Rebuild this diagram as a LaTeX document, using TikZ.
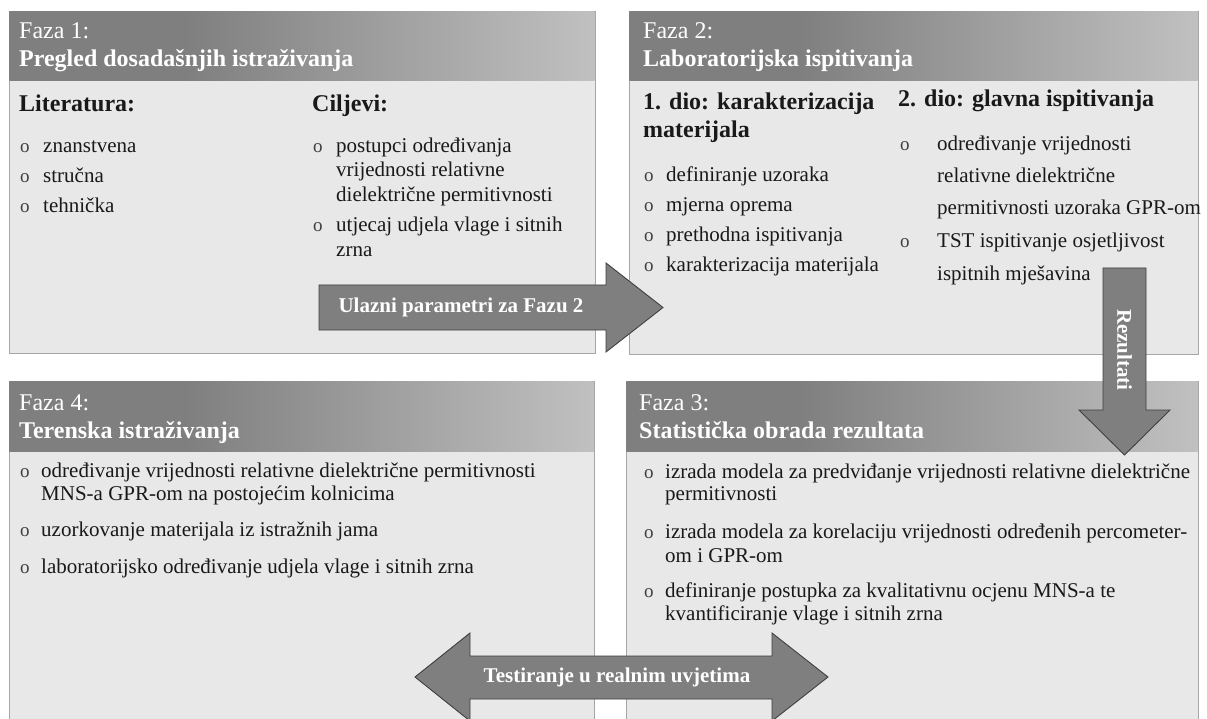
\documentclass[tikz,border=0pt]{standalone}
\usepackage{fontspec}
\setmainfont{Liberation Serif}
\definecolor{hdrA}{HTML}{7F7F7F}
\definecolor{hdrB}{HTML}{E0E0E0}
\definecolor{panelbg}{HTML}{E8E8E8}
\definecolor{arrowfill}{HTML}{7F7F7F}
\pgfdeclarehorizontalshading{hdrshade}{100bp}{color(0bp)=(hdrA); color(40bp)=(hdrA); color(92bp)=(hdrB); color(100bp)=(hdrB)}
\begin{document}
\begin{tikzpicture}[x=1pt,y=-1pt,
 panel/.style={draw=black!35, line width=0.8pt, fill=panelbg, inner sep=0pt, anchor=north west},
 hdrtxt/.style={anchor=base west, inner sep=0pt, text=white, font=\fontsize{24}{28}\selectfont},
 hdrbold/.style={anchor=base west, inner sep=0pt, text=white, font=\fontsize{24}{28}\selectfont\bfseries},
 subhd/.style={anchor=base west, inner sep=0pt, font=\fontsize{24}{28}\selectfont\bfseries, text=black!90},
 body/.style={anchor=base west, inner sep=0pt, font=\fontsize{21}{24}\selectfont, text=black!90},
 bul/.style={anchor=base west, inner sep=0pt, font=\fontsize{19}{22}\selectfont, text=black!75},
 blockarrow/.style={fill=arrowfill, draw=black!75, line width=0.9pt, line join=miter},
 arrtxt/.style={inner sep=0pt, text=white, font=\fontsize{21}{24}\selectfont\bfseries}]
\useasboundingbox (0,0) rectangle (1207,719);
\fill[white] (0,0) rectangle (1207,719);
\clip (0,0) rectangle (1207,719);

% ---------- panels ----------
\node[panel, minimum width=586pt, minimum height=342pt] (P1) at (9,11) {};
\node[panel, minimum width=569pt, minimum height=343pt] (P2) at (629,11) {};
\node[panel, minimum width=585pt, minimum height=350pt] (P4) at (9,381) {};
\node[panel, minimum width=572pt, minimum height=350pt] (P3) at (626,381) {};

\shade[shading=hdrshade] (9.4,11.4) rectangle (594.6,81);
\shade[shading=hdrshade] (629.4,11.4) rectangle (1197.6,81);
\shade[shading=hdrshade] (9.4,381.4) rectangle (593.6,451);
\shade[shading=hdrshade] (626.4,381.4) rectangle (1197.6,451);

% ---------- Faza 1 ----------
\node[hdrtxt] (f1a) at (19,39) {Faza 1:};
\node[hdrbold] (f1b) at (19,67) {Pregled dosadašnjih istraživanja};
\node[subhd] (lit) at (19,112) {Literatura:};
\node[subhd] (cil) at (312,112) {Ciljevi:};
\node[bul] (b11) at (20,153) {o};
\node[body] (t11) at (43,153) {znanstvena};
\node[bul] (b12) at (20,183) {o};
\node[body] (t12) at (43,183) {stručna};
\node[bul] (b13) at (20,213) {o};
\node[body] (t13) at (43,213) {tehnička};
\node[bul] (b14) at (313,153) {o};
\node[body] (t14a) at (336,153) {postupci određivanja};
\node[body] (t14b) at (336,177) {vrijednosti relativne};
\node[body] (t14c) at (336,202) {dielektrične permitivnosti};
\node[bul] (b15) at (313,232) {o};
\node[body] (t15a) at (336,232) {utjecaj udjela vlage i sitnih};
\node[body] (t15b) at (336,257) {zrna};

% ---------- Faza 2 ----------
\node[hdrtxt] (f2a) at (643,39) {Faza 2:};
\node[hdrbold] (f2b) at (643,67) {Laboratorijska ispitivanja};
\node[subhd] (d1a) at (643,110) {1. dio: karakterizacija};
\node[subhd] (d1b) at (643,138) {materijala};
\node[subhd] (d2) at (898,107) {2. dio: glavna ispitivanja};
\node[bul] (b21) at (644,182) {o};
\node[body] (t21) at (666,182) {definiranje uzoraka};
\node[bul] (b22) at (644,212) {o};
\node[body] (t22) at (666,212) {mjerna oprema};
\node[bul] (b23) at (644,242) {o};
\node[body] (t23) at (666,242) {prethodna ispitivanja};
\node[bul] (b24) at (644,272) {o};
\node[body] (t24) at (666,272) {karakterizacija materijala};
\node[bul] (b25) at (900,151) {o};
\node[body] (t25a) at (937,151) {određivanje vrijednosti};
\node[body] (t25b) at (937,183) {relativne dielektrične};
\node[body] (t25c) at (937,215) {permitivnosti uzoraka GPR-om};
\node[bul] (b26) at (900,248) {o};
\node[body] (t26a) at (937,248) {TST ispitivanje osjetljivost};
\node[body] (t26b) at (937,280) {ispitnih mješavina};

% ---------- Faza 4 ----------
\node[hdrtxt] (f4a) at (19,410) {Faza 4:};
\node[hdrbold] (f4b) at (19,438) {Terenska istraživanja};
\node[bul] (b41) at (20,477) {o};
\node[body] (t41a) at (41,477) {određivanje vrijednosti relativne dielektrične permitivnosti};
\node[body] (t41b) at (41,500) {MNS-a GPR-om na postojećim kolnicima};
\node[bul] (b42) at (20,536) {o};
\node[body] (t42) at (41,536) {uzorkovanje materijala iz istražnih jama};
\node[bul] (b43) at (20,573) {o};
\node[body] (t43) at (41,573) {laboratorijsko određivanje udjela vlage i sitnih zrna};

% ---------- Faza 3 ----------
\node[hdrtxt] (f3a) at (639,410) {Faza 3:};
\node[hdrbold] (f3b) at (639,438) {Statistička obrada rezultata};
\node[bul] (b31) at (644,478) {o};
\node[body] (t31a) at (665,478) {izrada modela za predviđanje vrijednosti relativne dielektrične};
\node[body] (t31b) at (665,500) {permitivnosti};
\node[bul] (b32) at (644,538) {o};
\node[body] (t32a) at (665,538) {izrada modela za korelaciju vrijednosti određenih percometer-};
\node[body] (t32b) at (665,562) {om i GPR-om};
\node[bul] (b33) at (644,597) {o};
\node[body] (t33a) at (665,597) {definiranje postupka za kvalitativnu ocjenu MNS-a te};
\node[body] (t33b) at (665,620) {kvantificiranje vlage i sitnih zrna};

% ---------- block arrows ----------
\draw[blockarrow] (319,285) -- (606,285) -- (606,263) -- (663,307.5) -- (606,352) -- (606,330) -- (319,330) -- cycle;
\node[arrtxt] (ulaz) at (461,307.5) {Ulazni parametri za Fazu 2};

\draw[blockarrow] (1103,268) -- (1146,268) -- (1146,410) -- (1170,410) -- (1124.5,455) -- (1079,410) -- (1103,410) -- cycle;
\node[arrtxt, rotate=-90] (rez) at (1124.5,350) {Rezultati};

\draw[blockarrow] (415,677) -- (470,633) -- (470,656) -- (772,656) -- (772,633) -- (828,677) -- (772,721) -- (772,699) -- (470,699) -- (470,721) -- cycle;
\node[arrtxt] (test) at (617,677) {Testiranje u realnim uvjetima};
\end{tikzpicture}
\end{document}
